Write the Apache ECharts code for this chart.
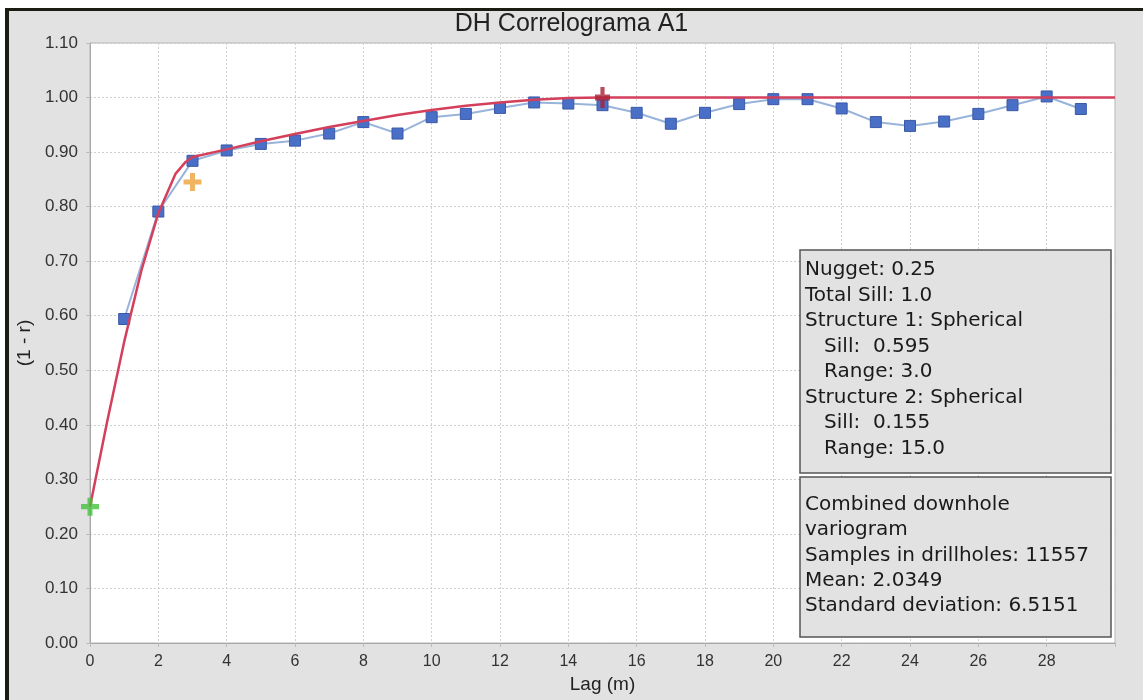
<!DOCTYPE html>
<html>
<head>
<meta charset="utf-8">
<script src="https://cdn.jsdelivr.net/npm/echarts@6/dist/echarts.min.js"></script>
<style>html,body{margin:0;padding:0;background:#fff}#c{width:1143px;height:700px}</style>
</head>
<body>
<div id="c"></div>
<script>
// Experimental correlogram points (lag, 1 - r)
const expLag = [1,2,3,4,5,6,7,8,9,10,11,12,13,14,15,16,17,18,19,20,21,22,23,24,25,26,27,28,29];
const expVal = [0.594,0.791,0.884,0.903,0.915,0.921,0.934,0.955,0.934,0.964,0.970,0.981,0.991,0.989,0.986,0.972,0.952,0.972,0.988,0.997,0.997,0.980,0.955,0.948,0.956,0.970,0.986,1.002,0.979];
// Fitted model curve
const modelLag = [0,0.5,1,1.5,2,2.5,2.8,3,4,5,6,7,8,9,10,11,12,13,14,15,30];
const modelVal = [0.25,0.405,0.552,0.682,0.788,0.860,0.882,0.891,0.905,0.920,0.933,0.946,0.957,0.968,0.977,0.985,0.991,0.996,0.999,1.0,1.0];
// Marker crosses
const nuggetPt = [0,0.25];
const sill1Pt = [3,0.845];
const sill2Pt = [15,1.0];
// Tick settings
const xTicks = {min:0,max:30,interval:2};
const yTicks = {min:0,max:1.1,interval:0.1};
// Text boxes
const box1Lines = ['Nugget: 0.25','Total Sill: 1.0','Structure 1: Spherical','   Sill:  0.595','   Range: 3.0','Structure 2: Spherical','   Sill:  0.155','   Range: 15.0'];
const box2Lines = ['Combined downhole','variogram','Samples in drillholes: 11557','Mean: 2.0349','Standard deviation: 6.5151'];

const crossPath = 'path://M3.6,0H6.4V3.6H10V6.4H6.4V10H3.6V6.4H0V3.6H3.6Z';
const chart = echarts.init(document.getElementById('c'), null, {renderer:'canvas'});

const graphics = [
  {type:'rect', shape:{x:0,y:0,width:1143,height:8}, style:{fill:'#fff'}, z:-1, silent:true},
  {type:'rect', shape:{x:0,y:0,width:5,height:700}, style:{fill:'#fff'}, z:-1, silent:true},
  {type:'rect', shape:{x:5,y:8,width:1138,height:3}, style:{fill:'#1c1c14'}, silent:true},
  {type:'rect', shape:{x:5,y:8,width:4,height:692}, style:{fill:'#1c1c14'}, silent:true},
  {type:'rect', shape:{x:800,y:250,width:311,height:223}, style:{fill:'#e2e2e2',stroke:'#555',lineWidth:1.5}, z:50},
  {type:'rect', shape:{x:800,y:477,width:311,height:160}, style:{fill:'#e2e2e2',stroke:'#555',lineWidth:1.5}, z:50}
];
box1Lines.forEach((t,i)=>graphics.push({type:'text', x:805, y:270+i*25.5, z:51,
  style:{text:t, fill:'#1a1a1a', font:'20px "DejaVu Sans"', verticalAlign:'middle', align:'left'}}));
box2Lines.forEach((t,i)=>graphics.push({type:'text', x:805, y:505+i*25.2, z:51,
  style:{text:t, fill:'#1a1a1a', font:'20px "DejaVu Sans"', verticalAlign:'middle', align:'left'}}));

chart.setOption({
  backgroundColor:'#e2e2e2',
  animation:false,
  textStyle:{fontFamily:'"Liberation Sans", Arial, sans-serif'},
  title:{text:'DH Correlograma A1', left:'center', top:7,
    textStyle:{fontSize:25, fontWeight:'normal', color:'#222', fontFamily:'"Liberation Sans", Arial, sans-serif'}},
  grid:{left:90, right:28, top:43, bottom:57, show:true, backgroundColor:'#fff', borderColor:'#b4b4b4', borderWidth:1, containLabel:false},
  xAxis:{type:'value', min:xTicks.min, max:xTicks.max, interval:xTicks.interval,
    name:'Lag (m)', nameLocation:'middle', nameGap:32,
    nameTextStyle:{fontSize:19, color:'#222'},
    axisLine:{show:true, lineStyle:{color:'#a8a8a8'}},
    axisTick:{show:true, length:4, lineStyle:{color:'#bbb'}},
    axisLabel:{fontSize:16, color:'#333', margin:11, formatter:v=> v>=30 ? '' : String(v)},
    splitLine:{show:true, lineStyle:{color:'#cfcfcf', type:[2,2], width:1}}},
  yAxis:{type:'value', min:yTicks.min, max:yTicks.max, interval:yTicks.interval,
    name:'(1 - r)', nameLocation:'middle', nameGap:46, nameRotate:90,
    nameTextStyle:{fontSize:19, color:'#222'},
    axisLine:{show:true, lineStyle:{color:'#a8a8a8'}},
    axisTick:{show:true, length:4, lineStyle:{color:'#bbb'}},
    axisLabel:{fontSize:17, color:'#333', margin:12, formatter:v=>v.toFixed(2)},
    splitLine:{show:true, lineStyle:{color:'#cfcfcf', type:[2,2], width:1}}},
  graphic:graphics,
  series:[
    {type:'line', name:'Experimental', data:expLag.map((x,i)=>[x,expVal[i]]),
      symbol:'rect', symbolSize:11,
      lineStyle:{color:'#98b4da', width:2},
      itemStyle:{color:'#4a6fc6', borderColor:'#3a58a8', borderWidth:1}, z:3},
    {type:'line', name:'Model', data:modelLag.map((x,i)=>[x,modelVal[i]]),
      symbol:'none', lineStyle:{color:'#d43f5b', width:2.5}, z:4},
    {type:'scatter', data:[nuggetPt], symbol:crossPath, symbolSize:18, itemStyle:{color:'#46c23e'}, z:5},
    {type:'scatter', data:[sill1Pt], symbol:crossPath, symbolSize:18, itemStyle:{color:'#eda23a'}, z:5},
    {type:'scatter', data:[sill2Pt], symbol:crossPath, symbolSize:[15,21], itemStyle:{color:'#a82036'}, z:5}
  ]
});
</script>
</body>
</html>
